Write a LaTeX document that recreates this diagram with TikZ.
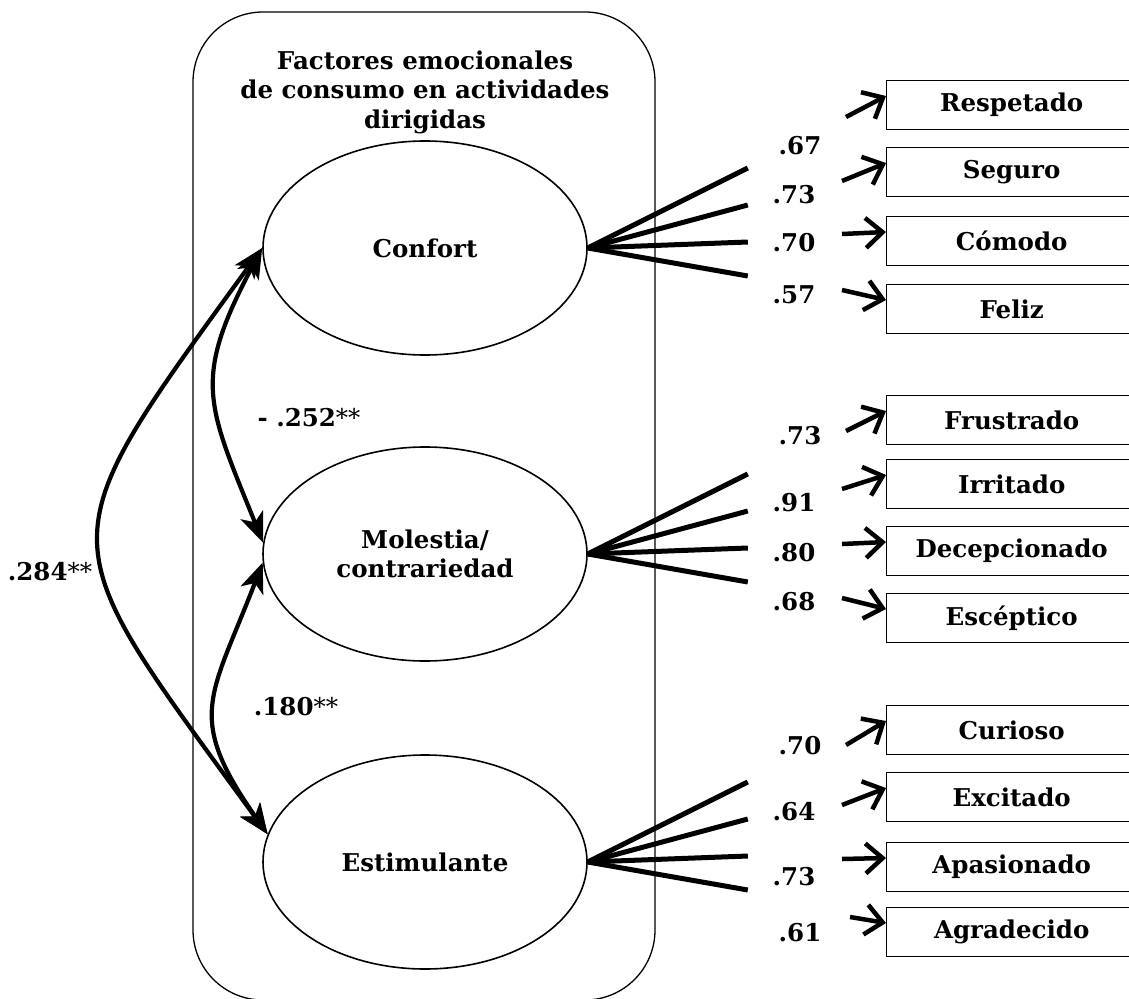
\documentclass[tikz,border=0pt]{standalone}
\usepackage{fontspec}
\setmainfont{DejaVu Serif}
\usetikzlibrary{shapes.geometric,arrows.meta}

\tikzset{
    factor/.style={draw, line width=1.6pt, ellipse, minimum width=324pt, minimum height=214pt, inner sep=0pt, align=center},
    item/.style={draw, line width=1.4pt, anchor=west, minimum width=250pt, minimum height=49pt, inner sep=0pt},
    carga/.style={line width=5pt},
    flecha/.style={line width=4.5pt, -{Straight Barb[length=17pt,width=30pt]}},
    cov/.style={line width=4.2pt, {Stealth[length=30pt,width=24pt,inset=8pt]}-{Stealth[length=30pt,width=24pt,inset=8pt]}},
}

\begin{document}
\begin{tikzpicture}[x=1pt, y=-1pt, font=\fontsize{24.5}{29.5}\selectfont\bfseries]
    \useasboundingbox (0,0) rectangle (1129,998);

    % Marco y titulo
    \draw[line width=1.3pt, rounded corners=70pt] (193,12) rectangle (655,1000);
    \node[align=center] (titulo) at (425,92) {Factores emocionales\\de consumo en actividades\\dirigidas};

    % Factores
    \node[factor] (confort) at (425,248) {Confort};
    \node[factor] (molestia) at (425,554) {Molestia/\\contrariedad};
    \node[factor] (estimulante) at (425,862) {Estimulante};

    % Cargas factoriales
    \foreach \f in {confort, molestia, estimulante} {
        \foreach \i/\dy in {1/-80, 2/-43, 3/-6, 4/28} {
            \path (\f.east) ++(160,\dy) coordinate (\f\i);
            \draw[carga] (\f.east) -- (\f\i);
        }
    }

    % Indicadores
    \foreach \nm/\yy/\txt/\val/\lx/\ly/\sx/\sy in {
        respetado/105/Respetado/.67/800/146/846/117,
        seguro/172/Seguro/.73/794/195/842/181,
        comodo/241/Cómodo/.70/794/243/842/234,
        feliz/309/Feliz/.57/794/295/842/290,
        frustrado/420/Frustrado/.73/800/436/846/431,
        irritado/484/Irritado/.91/794/503/842/489,
        decepcionado/551/Decepcionado/.80/794/553/842/544,
        esceptico/618/Escéptico/.68/794/602/842/598,
        curioso/730/Curioso/.70/800/746/846/745,
        excitado/797/Excitado/.64/794/812/842/805,
        apasionado/867/Apasionado/.73/794/877/842/859,
        agradecido/932/Agradecido/.61/800/933/850/917} {
        \node[item] (\nm) at (886,\yy) {\txt};
        \node (v\nm) at (\lx,\ly) {\val};
        \coordinate (s\nm) at (\sx,\sy);
        \draw[flecha] (s\nm) -- ([yshift=9pt]\nm.west);
    }

    % Correlaciones
    \draw[cov] (confort.west) to[out=242, in=112, looseness=1.3] (molestia.176);
    \draw[cov] (molestia.183) to[out=249, in=125, looseness=1.36] (estimulante.170);
    \draw[cov] (confort.west) to[out=234, in=126, looseness=1.63] (estimulante.170);
    \node (r252) at (309,418) {- .252\textmd{**}};
    \node (r180) at (296,707) {.180\textmd{**}};
    \node (r284) at (50,572) {.284\textmd{**}};
\end{tikzpicture}
\end{document}
